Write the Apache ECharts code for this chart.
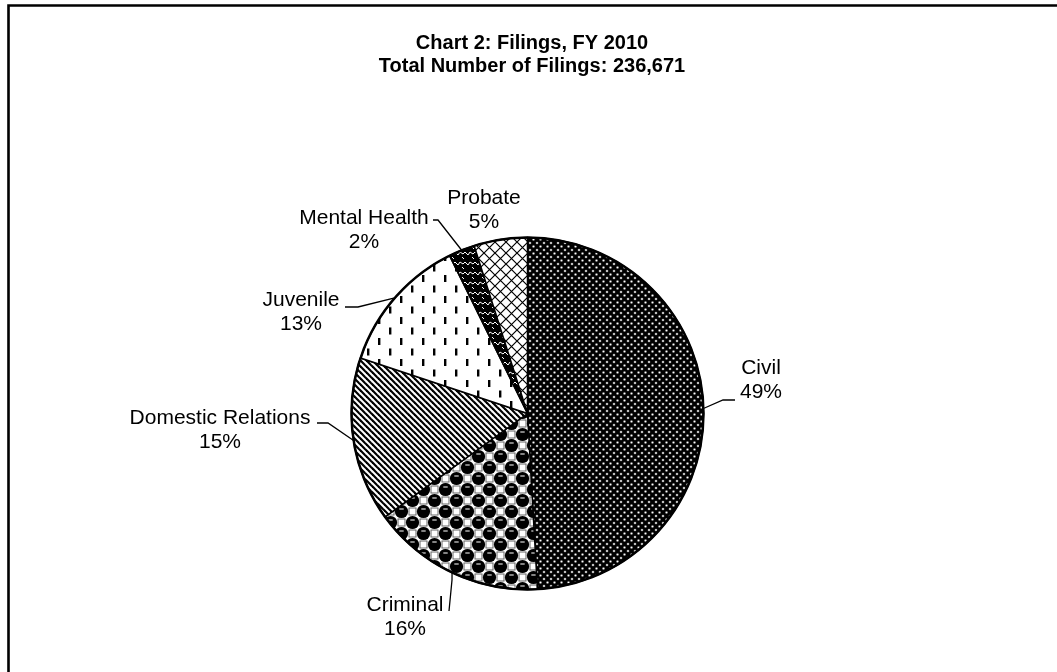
<!DOCTYPE html>
<html>
<head>
<meta charset="utf-8">
<script src="https://cdn.jsdelivr.net/npm/echarts@6/dist/echarts.min.js"></script>
<style>
  html, body { margin: 0; padding: 0; background: #fff; }
  #chart { width: 1057px; height: 672px; }
</style>
</head>
<body>
<div id="chart"></div>
<script>
// ---- data ----
const categories = ['Civil', 'Criminal', 'Domestic Relations', 'Juvenile', 'Mental Health', 'Probate'];
const shares = [49.1, 15.9, 15.1, 12.6, 2.4, 4.9];   // percent of filings
const titleLines = ['Chart 2: Filings, FY 2010', 'Total Number of Filings: 236,671'];

// ---- pattern fills ----
function tile(w, h, draw) {
  const c = document.createElement('canvas');
  c.width = w; c.height = h;
  const g = c.getContext('2d');
  draw(g, w, h);
  return { image: c, repeat: 'repeat' };
}
const patterns = {
  'Civil': tile(7, 7, (g, w, h) => {
    g.fillStyle = '#000'; g.fillRect(0, 0, w, h);
    [[1.5, 1.5], [5, 5]].forEach(([x, y]) => {
      g.fillStyle = '#999'; g.beginPath(); g.arc(x, y, 1.3, 0, Math.PI * 2); g.fill();
      g.fillStyle = '#fff'; g.fillRect(x - 0.6, y - 0.6, 1.2, 1.2);
    });
  }),
  'Criminal': tile(22, 22, (g, w, h) => {
    g.fillStyle = '#fff'; g.fillRect(0, 0, w, h);
    g.strokeStyle = '#666'; g.lineWidth = 1;
    [[16.5, 5.5], [5.5, 16.5]].forEach(([x, y]) => { g.strokeRect(x - 3.5, y - 3.5, 7, 7); });
    const ball = (x, y) => {
      g.fillStyle = '#000'; g.beginPath(); g.arc(x, y, 6.6, 0, Math.PI * 2); g.fill();
      g.fillStyle = '#bbb'; g.fillRect(x - 2.2, y - 3.2, 4.4, 1.4);
    };
    [[5.5, 5.5], [16.5, 16.5], [-5.5, -5.5], [27.5, 27.5], [27.5, 5.5], [5.5, 27.5], [-5.5, 16.5], [16.5, -5.5]].forEach(p => ball(p[0], p[1]));
  }),
  'Domestic Relations': tile(6, 6, (g, w, h) => {
    g.fillStyle = '#fff'; g.fillRect(0, 0, w, h);
    g.strokeStyle = '#000'; g.lineWidth = 2.2;
    [-6, 0, 6].forEach(o => { g.beginPath(); g.moveTo(o - 1, -1); g.lineTo(o + 7, 7); g.stroke(); });
  }),
  'Juvenile': tile(22, 21, (g, w, h) => {
    g.fillStyle = '#fff'; g.fillRect(0, 0, w, h);
    g.fillStyle = '#000';
    g.fillRect(4, 2, 2.4, 7);
    g.fillRect(15, 12.5, 2.4, 7);
  }),
  'Mental Health': tile(10, 10, (g, w, h) => {
    g.fillStyle = '#000'; g.fillRect(0, 0, w, h);
    g.strokeStyle = '#fff'; g.lineWidth = 1;
    g.beginPath(); g.moveTo(0, 2); g.lineTo(3, 4); g.lineTo(5, 2); g.lineTo(8, 5); g.lineTo(10, 2); g.stroke();
    g.beginPath(); g.moveTo(2, 7); g.lineTo(4, 9); g.stroke();
  }),
  'Probate': tile(11, 11, (g, w, h) => {
    g.fillStyle = '#fff'; g.fillRect(0, 0, w, h);
    g.strokeStyle = '#000'; g.lineWidth = 1.2;
    g.beginPath(); g.moveTo(0, 0); g.lineTo(11, 11); g.moveTo(11, 0); g.lineTo(0, 11); g.stroke();
  })
};

// label placement (layout only)
const labelPlace = {
  'Civil': { x: 761, y: 380, line: [[723, 400], [735, 400]] },
  'Criminal': { x: 405, y: 617, line: [[452, 580], [449, 611]] },
  'Domestic Relations': { x: 220, y: 430, line: [[328, 423], [317, 423]] },
  'Juvenile': { x: 301, y: 312, line: [[358, 307], [345, 307]] },
  'Mental Health': { x: 364, y: 230, line: [[438, 220], [433, 220]] },
  'Probate': { x: 484, y: 210, line: null }
};

const chart = echarts.init(document.getElementById('chart'), null, { renderer: 'canvas' });
chart.setOption({
  backgroundColor: '#fff',
  animation: false,
  title: {
    text: titleLines.join('\n'),
    left: 527, top: 27, textAlign: 'center',
    textStyle: { fontFamily: 'Liberation Sans', fontWeight: 'bold', fontSize: 20, lineHeight: 23, color: '#000' }
  },
  graphic: [{
    type: 'rect', shape: { x: 8.5, y: 5.5, width: 1100, height: 700 },
    style: { fill: 'none', stroke: '#000', lineWidth: 2.6 }, silent: true
  }],
  series: [{
    type: 'pie',
    center: [527.5, 413.5],
    radius: 176,
    startAngle: 90,
    clockwise: true,
    data: categories.map((c, i) => ({ name: c, value: shares[i], itemStyle: { color: patterns[c] } })),
    itemStyle: { borderColor: '#000', borderWidth: 1.5 },
    label: {
      show: true,
      position: 'outside',
      formatter: p => p.name + '\n' + Math.round(p.percent) + '%',
      fontFamily: 'Liberation Sans', fontSize: 21, lineHeight: 24, color: '#000', align: 'center'
    },
    labelLine: { show: true, length: 10, length2: 10, lineStyle: { color: '#000', width: 1.3 } },
    labelLayout: function (params) {
      const name = categories[params.dataIndex];
      const pl = labelPlace[name];
      const start = params.labelLinePoints ? params.labelLinePoints[0] : null;
      const out = { x: pl.x, y: pl.y, align: 'center', verticalAlign: 'middle' };
      if (pl.line && start) out.labelLinePoints = [start, pl.line[0], pl.line[1]];
      else out.labelLinePoints = [[0, 0], [0, 0], [0, 0]];
      return out;
    },
    emphasis: { disabled: true }
  }, {
    type: 'pie',
    center: [527.5, 413.5],
    radius: 176,
    silent: true,
    label: { show: false }, labelLine: { show: false },
    data: [{ value: 1, itemStyle: { color: 'none', borderColor: '#000', borderWidth: 2.5 } }]
  }]
});
</script>
</body>
</html>
